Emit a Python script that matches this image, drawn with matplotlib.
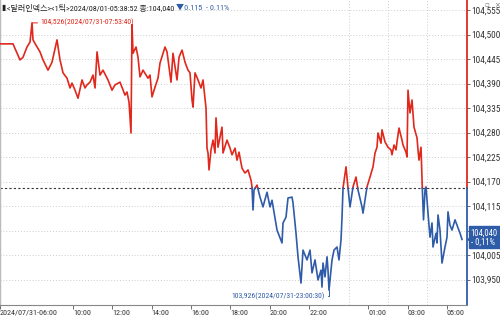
import numpy as np
import matplotlib
matplotlib.use("Agg")
import matplotlib.pyplot as plt
import matplotlib.font_manager as fm

# ---- data (hours since 2024/07/31 06:00, dollar index) ----
hours = [0.29, 0.95, 1.155, 1.307, 1.459, 1.663, 1.815, 1.917, 1.967, 2.120, 2.323, 2.476, 2.730, 2.933,
         3.187, 3.339, 3.492, 3.695, 3.848, 3.949, 4.102, 4.254, 4.457, 4.610, 4.711, 4.864, 5.016, 5.118,
         5.220, 5.372, 5.524, 5.778, 5.982, 6.134, 6.388, 6.642, 6.744, 6.846, 6.947, 6.998, 7.049, 7.201,
         7.303, 7.404, 7.557, 7.811, 7.913, 8.014, 8.167, 8.319, 8.421, 8.675, 8.776, 8.980, 9.081, 9.285,
         9.386, 9.539, 9.691, 9.843, 9.945, 10.047, 10.098, 10.199, 10.352, 10.504, 10.606, 10.758, 10.809,
         10.860, 10.911, 11.012, 11.114, 11.215, 11.266, 11.368, 11.571, 11.622, 11.825, 11.978, 12.079,
         12.232, 12.333, 12.435, 12.587, 12.740, 12.892, 13.045, 13.095, 13.146, 13.197, 13.350, 13.502,
         13.654, 13.858, 14.010, 14.112, 14.264, 14.366, 14.620, 14.671, 14.823, 14.925, 15.128, 15.179,
         15.331, 15.433, 15.585, 15.687, 15.890, 16.043, 16.144, 16.297, 16.449, 16.602, 16.652, 16.703,
         16.805, 16.907, 16.957, 17.008, 17.161, 17.262, 17.415, 17.516, 17.618, 17.669, 17.720, 17.872,
         17.974, 18.075, 18.228, 18.380, 18.482, 18.685, 18.736, 18.888, 18.939, 19.091, 19.244, 19.346,
         19.447, 19.498, 19.650, 19.701, 19.854, 20.006, 20.159, 20.209, 20.311, 20.413, 20.463, 20.565,
         20.717, 20.768, 20.921, 20.972, 21.022, 21.124, 21.226, 21.327, 21.480, 21.531, 21.581, 21.683,
         21.734, 21.784, 21.810, 21.886, 21.937, 22.039, 22.140, 22.242, 22.293, 22.445, 22.496, 22.547,
         22.648, 22.750, 22.902, 23.004, 23.055, 23.156, 23.258, 23.411, 23.563, 23.665, 23.766]
values = [104.479, 104.479, 104.458, 104.443, 104.449, 104.472, 104.483, 104.526, 104.488, 104.476, 104.461,
          104.443, 104.420, 104.438, 104.488, 104.443, 104.414, 104.402, 104.380, 104.391, 104.375, 104.357,
          104.398, 104.380, 104.387, 104.393, 104.409, 104.380, 104.461, 104.409, 104.420, 104.398, 104.375,
          104.387, 104.393, 104.364, 104.371, 104.348, 104.279, 104.522, 104.458, 104.472, 104.449, 104.405,
          104.420, 104.402, 104.409, 104.360, 104.382, 104.402, 104.436, 104.472, 104.461, 104.393, 104.458,
          104.398, 104.449, 104.465, 104.438, 104.420, 104.414, 104.353, 104.337, 104.414, 104.398, 104.380,
          104.398, 104.335, 104.245, 104.234, 104.196, 104.241, 104.263, 104.234, 104.313, 104.247, 104.292,
          104.234, 104.263, 104.245, 104.230, 104.245, 104.218, 104.236, 104.200, 104.189, 104.196, 104.173,
          104.158, 104.106, 104.151, 104.162, 104.135, 104.113, 104.146, 104.113, 104.128, 104.088, 104.061,
          104.032, 104.077, 104.090, 104.133, 104.135, 104.122, 104.054, 104.001, 103.942, 104.016, 103.994,
          104.016, 103.965, 103.994, 103.949, 103.971, 103.933, 103.987, 103.956, 104.001, 103.971, 103.926,
          103.994, 104.016, 104.023, 103.994, 104.039, 104.090, 104.155, 104.203, 104.155, 104.113, 104.158,
          104.180, 104.151, 104.113, 104.099, 104.144, 104.158, 104.180, 104.203, 104.234, 104.247, 104.279,
          104.256, 104.286, 104.259, 104.247, 104.241, 104.230, 104.252, 104.241, 104.259, 104.290, 104.263,
          104.252, 104.236, 104.225, 104.375, 104.324, 104.353, 104.292, 104.268, 104.241, 104.218, 104.247,
          104.173, 104.113, 104.084, 104.151, 104.158, 104.099, 104.045, 104.077, 104.023, 104.054, 104.032,
          104.095, 104.061, 103.987, 104.023, 104.045, 104.102, 104.072, 104.061, 104.084, 104.066, 104.054,
          104.040]
prev_close = 104.155
max_time = "2024/07/31-07:53:40"
min_time = "2024/07/31-23:00:30"
title_main = "<달러인덱스><1틱>2024/08/01-05:38:52 종:"
xtick_pos = [0.29, 4, 6, 8, 10, 12, 14, 16, 19, 21, 23]
xtick_labels = ["2024/07/31-06:00", "10:00", "12:00", "14:00", "16:00", "18:00",
                "20:00", "22:00", "01:00", "03:00", "05:00"]
xgrid_pos = [4, 6, 8, 10, 12, 14, 16, 18, 20, 22, 23]
yticks = [103.950, 104.005, 104.060, 104.115, 104.170, 104.225, 104.280,
          104.335, 104.390, 104.445, 104.500, 104.555]

RED = "#e0281c"
BLUE = "#2f5ca8"


def pick_narrow():
    found = {}
    for f in fm.fontManager.ttflist:
        n = f.name
        st = str(f.stretch)
        if f.style != "normal" or f.weight not in (400, "normal", "regular", "book", "Regular"):
            continue
        if "Mono" in n or "Serif" in n:
            continue
        if ("Narrow" in n or "Condensed" in n or
                st in ("condensed", "semi-condensed", "extra-condensed")):
            found.setdefault(n, f)
    for p in ["Liberation Sans Narrow", "Roboto Condensed", "DejaVu Sans Condensed",
              "DejaVu Sans", "Noto Sans", "Open Sans", "Noto Sans Condensed"]:
        if p in found:
            return found[p]
    for n, f in found.items():
        return f
    return None


nf = pick_narrow()
if nf is not None:
    FAM = [nf.name, "Noto Sans CJK KR", "DejaVu Sans"]
    STR = str(nf.stretch) if str(nf.stretch) != "normal" else "condensed"
else:
    FAM = ["Liberation Sans", "Noto Sans CJK KR", "DejaVu Sans"]
    STR = "normal"


def fmt(val):
    return f"{val:.3f}".replace(".", ",")


t = np.array(hours)
v = np.array(values)

fig = plt.figure(figsize=(5.0, 3.17), dpi=100)
renderer = fig.canvas.get_renderer()


def fit(s, target_px, cap=8.0):
    tmp = fig.text(0, 0, s, fontsize=10, fontfamily=FAM, fontstretch=STR)
    w = tmp.get_window_extent(renderer=renderer).width
    tmp.remove()
    return min(cap, 10 * target_px / w)


FS_Y = fit("104,555", 29, cap=7.0)
FS_X = fit("2024/07/31-06:00", 58, cap=6.5)
FS_ANN = fit("104,526(2024/07/31-07:53:40)", 94, cap=6.8)
FS_TTL = fit(title_main + "104,040 ", 168, cap=7.2)
FS_BOX = fit("104,040", 27, cap=6.8)

ax = fig.add_axes([0.0, 12 / 317, 467 / 500, 305 / 317])
ax.set_xlim(0.29, 24.02)
ax.set_ylim(103.8928, 104.5775)

# split into above/below previous close
xs, ys = [t[0]], [v[0]]
for i in range(1, len(t)):
    a, b = v[i - 1] - prev_close, v[i] - prev_close
    if a * b < 0:
        f = a / (a - b)
        xs.append(t[i - 1] + f * (t[i] - t[i - 1]))
        ys.append(prev_close)
    xs.append(t[i])
    ys.append(v[i])
xs, ys = np.array(xs), np.array(ys)
up = np.where(ys >= prev_close, ys, np.nan)
dn = np.where(ys <= prev_close, ys, np.nan)
ax.plot(xs, up, color=RED, lw=1.2, zorder=3)
ax.plot(xs, dn, color=BLUE, lw=1.2, zorder=3)

ax.axhline(prev_close, color="#333333", lw=0.8, ls=(0, (2, 2)), zorder=2)

# ticks & grid
ax.set_yticks(yticks)
ax.set_yticklabels([fmt(y) for y in yticks], fontfamily=FAM, fontstretch=STR,
                   fontsize=FS_Y, color="#333333")
ax.yaxis.tick_right()
ax.tick_params(axis="y", length=2, width=0.6, pad=1.2, color="#555555")
ax.set_xticks(xtick_pos)
ax.set_xticklabels(xtick_labels, fontfamily=FAM, fontstretch=STR, fontsize=FS_X,
                   color="#333333", ha="left")
ax.tick_params(axis="x", length=3, width=0.6, pad=0.3, color="#555555")
ax.set_xticks(xgrid_pos, minor=True)
ax.tick_params(axis="x", which="minor", length=0)
ax.grid(False)
ax.grid(True, axis="y", which="major", color="#cccccc", lw=0.7, ls=(0, (1, 2)))
ax.grid(True, axis="x", which="minor", color="#cccccc", lw=0.7, ls=(0, (1, 2)))

for s in ["top", "right"]:
    ax.spines[s].set_visible(False)
ax.spines["left"].set_color("#bbbbbb")
ax.spines["left"].set_linewidth(1.0)
ax.spines["bottom"].set_color("#888888")
ax.spines["bottom"].set_linewidth(0.8)

# right axis coloured by previous close
frac = (prev_close - ax.get_ylim()[0]) / (ax.get_ylim()[1] - ax.get_ylim()[0])
ax.plot([1, 1], [frac, 1], transform=ax.transAxes, color=RED, lw=1.3, clip_on=False)
ax.plot([1, 1], [0, frac], transform=ax.transAxes, color=BLUE, lw=1.3, clip_on=False)

# max / min annotations
imax, imin = int(np.argmax(v)), int(np.argmin(v))
ax.annotate(f"{fmt(v[imax])}({max_time})", xy=(t[imax], v[imax]), xytext=(6, 0.5),
            textcoords="offset points", ha="left", va="center", fontsize=FS_ANN,
            fontfamily=FAM, fontstretch=STR, color=RED,
            arrowprops=dict(arrowstyle="-", color=RED, lw=0.7, shrinkA=0, shrinkB=0), zorder=5)
ax.annotate(f"{fmt(v[imin])}({min_time})", xy=(t[imin], v[imin]), xytext=(-3, -4.5),
            textcoords="offset points", ha="right", va="center", fontsize=FS_ANN,
            fontfamily=FAM, fontstretch=STR, color=BLUE,
            arrowprops=dict(arrowstyle="-", color=BLUE, lw=0.7, shrinkA=0, shrinkB=0,
                            connectionstyle="angle,angleA=0,angleB=90,rad=0"), zorder=5)

# last price box
last = v[-1]
chg = last - prev_close
pct = chg / prev_close * 100
ax.annotate(f"{fmt(last)}\n- {abs(pct):.2f}%".replace(".", ","),
            xy=(1, last), xycoords=("axes fraction", "data"), xytext=(2.6, 1.5),
            textcoords="offset points", ha="left", va="center", fontsize=FS_BOX,
            fontfamily=FAM, fontstretch=STR, color="white", linespacing=1.0,
            annotation_clip=False,
            bbox=dict(boxstyle="square,pad=0.22", fc=BLUE, ec=BLUE), zorder=6)
ax.plot([1.004], [last], marker="<", ms=3.0, color=BLUE, transform=ax.get_yaxis_transform(),
        clip_on=False, zorder=6)

# title
ty = 1 - 7.5 / 317
fig.text(0.003, ty, "▮", fontsize=5.5, color="#222222", va="center", fontfamily=["DejaVu Sans"])
t1 = fig.text(0.014, ty, title_main + fmt(last) + " ", fontsize=FS_TTL, color="#222222",
              va="center", fontfamily=FAM, fontstretch=STR)
fig.canvas.draw()
bb = t1.get_window_extent(renderer=renderer)
x_end = bb.x1 / fig.bbox.width
fig.text(x_end, ty, f"▼{abs(chg):.3f}  - {abs(pct):.2f}%", fontsize=FS_TTL, color=BLUE,
         va="center", fontfamily=FAM + ["DejaVu Sans"], fontstretch=STR)

# window icons
fig.text(0.974, 1 - 5 / 317, "▫", fontsize=5, color="#777777", va="center", ha="center",
         fontfamily=["DejaVu Sans"])
fig.text(0.993, 1 - 5 / 317, "×", fontsize=5, color="#777777", va="center", ha="center",
         fontfamily=["DejaVu Sans"])

fig.savefig("out.png", dpi=100)
